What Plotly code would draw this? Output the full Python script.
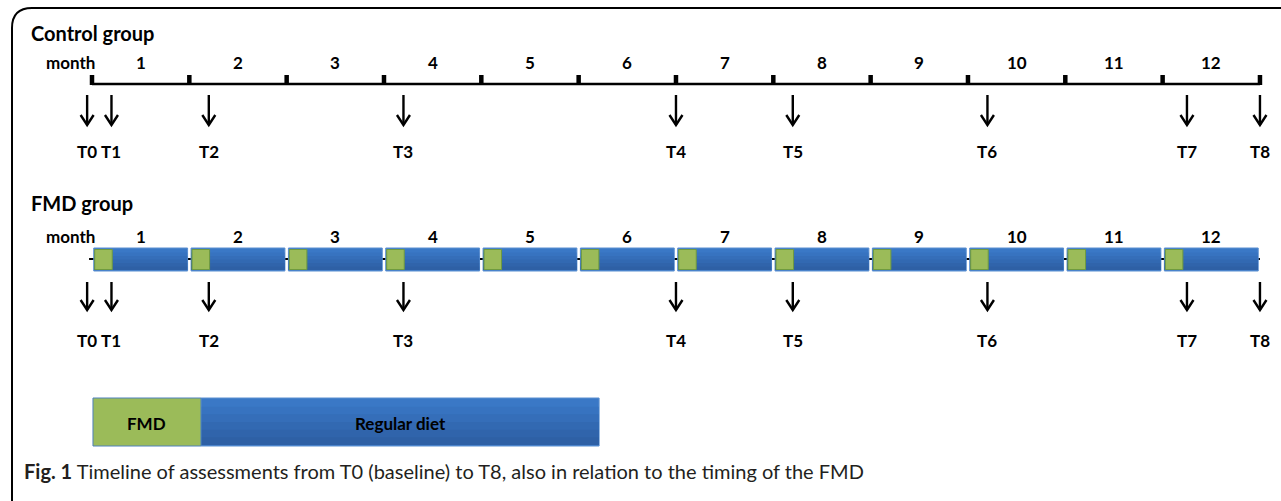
import plotly.graph_objects as go

# ---------------- data ----------------
months = list(range(1, 13))                     # month numbers
month_bounds = list(range(0, 13))               # month boundaries (0..12)
assessments = ["T0", "T1", "T2", "T3", "T4", "T5", "T6", "T7", "T8"]
assess_month = [-0.05, 0.2, 1.2, 3.2, 6.0, 7.2, 9.2, 11.25, 12.0]
fmd_days_fraction = 0.18                        # FMD block length (fraction of a month)
legend_fmd = [0.01, 1.12]                       # legend bar: FMD part (months)
legend_regular = [1.12, 5.21]                   # legend bar: Regular diet part (months)

W, H = 1281, 501
PX_PER_MONTH = 97.33
X0 = 92
FONT = "Lato"

fig = go.Figure()

def px2m(px):
    return (px - X0) / PX_PER_MONTH

# blue gradient (top -> bottom)
BLUES = ["#3a78c6", "#3773c0", "#356eb9", "#3269b2", "#3064ab", "#2e60a5"]

def blue_bar(shapes, x0, x1, y0, y1, layer="above"):
    shapes.append(dict(type="rect", xref="x", yref="y", x0=x0, x1=x1, y0=y0, y1=y1,
                       fillcolor=BLUES[0], line=dict(color="#5b8fd0", width=1), layer=layer))
    n = len(BLUES)
    h = (y1 - y0 - 2) / n
    eps = 0.004
    for i in range(1, n):
        shapes.append(dict(type="rect", xref="x", yref="y", x0=x0 + eps, x1=x1 - eps,
                           y0=y0 + 1 + i * h, y1=y1 - 1, fillcolor=BLUES[i],
                           line=dict(width=0), layer=layer))

# ---------- Control group ----------
ctrl_line_y = 84
fig.add_trace(go.Scatter(x=[month_bounds[0], month_bounds[-1]], y=[ctrl_line_y, ctrl_line_y],
                         mode="lines", line=dict(color="black", width=2.5),
                         hoverinfo="skip", showlegend=False))
tx, ty = [], []
for b in month_bounds:
    tx += [b, b, None]
    ty += [75, ctrl_line_y + 1, None]
fig.add_trace(go.Scatter(x=tx, y=ty, mode="lines", line=dict(color="black", width=4.5),
                         hoverinfo="skip", showlegend=False))

# ---------- FMD group bars ----------
fmd_y0, fmd_y1 = 248, 271
fig.add_trace(go.Scatter(x=[month_bounds[0] - 0.03, month_bounds[-1]], y=[259, 259],
                         mode="lines", line=dict(color="black", width=2),
                         hoverinfo="skip", showlegend=False))
shapes = []
gap = 0.018
for m in months:
    blue_bar(shapes, m - 1 + gap, m - gap, fmd_y0, fmd_y1)
    shapes.append(dict(type="rect", xref="x", yref="y", x0=m - 1 + gap + 0.01,
                       x1=m - 1 + gap + 0.01 + fmd_days_fraction,
                       y0=fmd_y0 + 1.5, y1=fmd_y1 - 1.5, fillcolor="#9bbb59",
                       line=dict(color="#6f9a3f", width=1), layer="above"))

# ---------- legend bar ----------
blue_bar(shapes, legend_regular[0], legend_regular[1], 398, 446, layer="below")
shapes.append(dict(type="rect", xref="x", yref="y", x0=legend_fmd[0], x1=legend_fmd[1],
                   y0=398, y1=446, fillcolor="#9bbb59", line=dict(color="#4f81bd", width=1),
                   layer="below"))

# ---------- outer border ----------
def P(px, py):
    return f"{px / W:.5f},{1 - py / H:.5f}"
shapes.append(dict(type="path", xref="paper", yref="paper",
                   path=f"M{P(12, 505)} L{P(12, 28)} Q{P(12, 8)} {P(32, 8)} L{P(1290, 8)}",
                   line=dict(color="black", width=2)))

# ---------- arrows ----------
def arrows(y_top, y_tip):
    ax, ay = [], []
    dx = 6.5 / PX_PER_MONTH
    for t in assess_month:
        ax += [t, t, None, t - dx, t, t + dx, None]
        ay += [y_top, y_tip, None, y_tip - 10, y_tip, y_tip - 10, None]
    return ax, ay

for (yt, yb) in [(95, 125), (282, 310)]:
    ax, ay = arrows(yt, yb)
    fig.add_trace(go.Scatter(x=ax, y=ay, mode="lines", line=dict(color="black", width=2.4),
                             hoverinfo="skip", showlegend=False))

# ---------- texts ----------
bold = dict(family=FONT, size=17, color="black")
ann = []
for m in months:
    for yy in (62, 236):
        ann.append(dict(x=m - 0.5, y=yy, xref="x", yref="y", text=f"<b>{m}</b>",
                        showarrow=False, font=bold))
for yy in (62, 236):
    ann.append(dict(x=px2m(70), y=yy, xref="x", yref="y", text="<b>month</b>",
                    showarrow=False, font=bold))
for lab, t in zip(assessments, assess_month):
    ann.append(dict(x=t, y=151, xref="x", yref="y", text=f"<b>{lab}</b>", showarrow=False, font=bold))
    ann.append(dict(x=t, y=340, xref="x", yref="y", text=f"<b>{lab}</b>", showarrow=False, font=bold))

ann.append(dict(x=29 / W, y=1 - 33 / H, xref="paper", yref="paper", xanchor="left", yanchor="middle",
                text="<b>Control group</b>", showarrow=False,
                font=dict(family=FONT, size=20, color="black")))
ann.append(dict(x=29 / W, y=1 - 203 / H, xref="paper", yref="paper", xanchor="left", yanchor="middle",
                text="<b>FMD group</b>", showarrow=False,
                font=dict(family=FONT, size=20, color="black")))
ann.append(dict(x=sum(legend_fmd) / 2, y=423, xref="x", yref="y", text="<b>FMD</b>",
                showarrow=False, font=bold))
ann.append(dict(x=sum(legend_regular) / 2, y=423, xref="x", yref="y", text="<b>Regular diet</b>",
                showarrow=False, font=bold))
ann.append(dict(x=22 / W, y=1 - 471 / H, xref="paper", yref="paper", xanchor="left", yanchor="middle",
                text="<b>Fig. 1</b> Timeline of assessments from T0 (baseline) to T8, also in relation to the timing of the FMD",
                showarrow=False, font=dict(family=FONT, size=20, color="#231f20")))

fig.update_layout(
    width=W, height=H, margin=dict(l=0, r=0, t=0, b=0),
    paper_bgcolor="white", plot_bgcolor="white",
    xaxis=dict(range=[px2m(0), px2m(W)], visible=False, fixedrange=True),
    yaxis=dict(range=[H, 0], visible=False, fixedrange=True),
    shapes=shapes, annotations=ann, showlegend=False,
)

fig.write_html("out.html", config={"displayModeBar": False},
               post_script="document.body.style.margin='0';document.body.style.overflow='hidden';")
